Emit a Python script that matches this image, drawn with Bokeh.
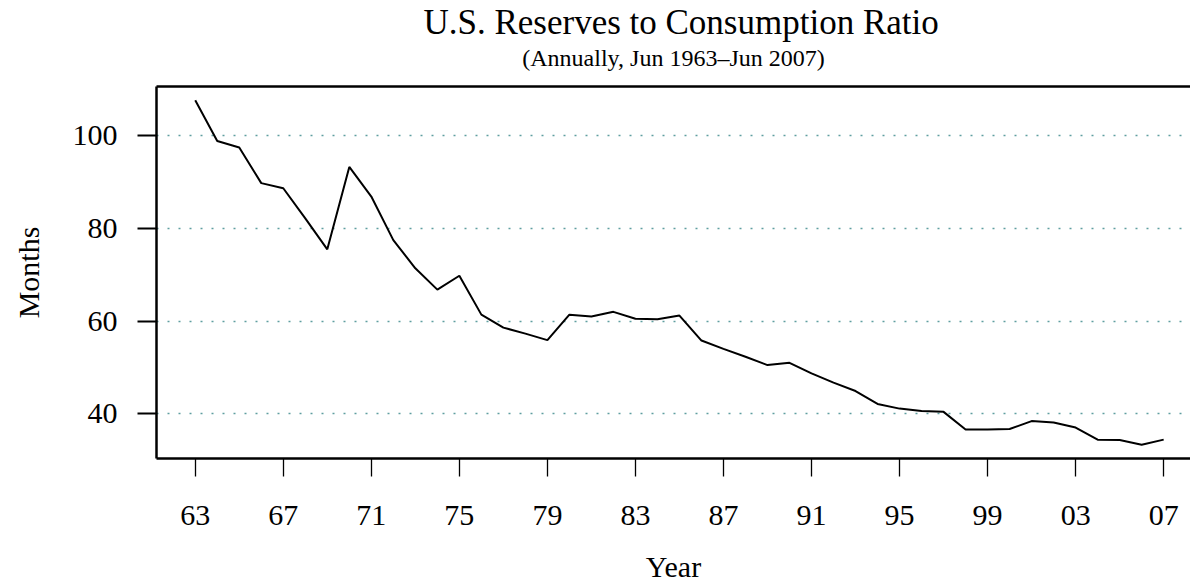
from bokeh.plotting import figure
from bokeh.models import Range1d, FixedTicker, LinearAxis, Title, ColumnDataSource
from bokeh.embed import file_html
from bokeh.resources import INLINE

# ---- data ----
years = [1963, 1964, 1965, 1966, 1967, 1968, 1969, 1970, 1971, 1972,
         1973, 1974, 1975, 1976, 1977, 1978, 1979, 1980, 1981, 1982,
         1983, 1984, 1985, 1986, 1987, 1988, 1989, 1990, 1991, 1992,
         1993, 1994, 1995, 1996, 1997, 1998, 1999, 2000, 2001, 2002,
         2003, 2004, 2005, 2006, 2007]
months = [107.7, 98.9, 97.5, 89.8, 88.7, 82.2, 75.5, 93.3, 86.9, 77.5,
          71.4, 66.8, 69.8, 61.4, 58.6, 57.3, 55.9, 61.4, 61.0, 62.0,
          60.5, 60.4, 61.2, 55.8, 54.0, 52.3, 50.5, 51.0, 48.7, 46.7,
          44.9, 42.1, 41.1, 40.6, 40.4, 36.6, 36.6, 36.7, 38.4, 38.1,
          37.0, 34.4, 34.3, 33.3, 34.4]
x_ticks = [1963, 1967, 1971, 1975, 1979, 1983, 1987, 1991, 1995, 1999, 2003, 2007]
x_tick_labels = ["63", "67", "71", "75", "79", "83", "87", "91", "95", "99", "03", "07"]
y_ticks = [40, 60, 80, 100]

title_text = "U.S. Reserves to Consumption Ratio"
subtitle_text = "(Annually, Jun 1963\u2013Jun 2007)"
x_label = "Year"
y_label = "Months"

FONT = "Liberation Serif"

# ---- layout ----
W, H = 1190, 585
BL, BT = 156, 86
frame_h = 373
BB = H - BT - frame_h
frame_w = W - BL

# R-style 4% padded ranges
xspan = years[-1] - years[0]
px_per_year = 22.01
x_lo = years[0] - 0.04 * xspan
x_hi = x_lo + frame_w / px_per_year
ymin, ymax = min(months), max(months)
yspan = ymax - ymin
y_lo = ymin - 0.04 * yspan
y_hi = ymax + 0.04 * yspan

# horizontal centre of R's full plot region (it runs past the window edge)
x_full_hi = years[-1] + 0.04 * xspan
centre_px = ((x_lo + x_full_hi) / 2 - x_lo) * px_per_year   # from frame left

p = figure(width=W, height=H, x_range=Range1d(x_lo, x_hi), y_range=Range1d(y_lo, y_hi),
           output_backend="svg", toolbar_location=None,
           min_border_left=BL, min_border_right=0, min_border_top=BT, min_border_bottom=BB,
           x_axis_location=None, y_axis_location=None)
p.outline_line_color = None
p.background_fill_color = "white"
p.border_fill_color = "white"

# grid
p.xgrid.visible = False
p.ygrid.ticker = FixedTicker(ticks=y_ticks)
p.ygrid.grid_line_color = "#5F9EA0"
p.ygrid.grid_line_dash = "2 9"
p.ygrid.grid_line_width = 1.5

# line
src = ColumnDataSource(dict(x=years, y=months))
p.line("x", "y", source=src, line_color="black", line_width=2.0)

# axes
xa = LinearAxis(ticker=FixedTicker(ticks=x_ticks), axis_label=x_label,
                major_label_overrides={t: l for t, l in zip(x_ticks, x_tick_labels)})
xa.axis_line_width = 2.5
xa.major_tick_out = 18
xa.major_tick_in = 0
xa.major_tick_line_width = 1.3
xa.minor_tick_line_color = None
xa.major_label_text_font = FONT
xa.major_label_text_font_size = "30px"
xa.major_label_text_color = "black"
xa.major_label_standoff = 29
xa.axis_label_text_font = FONT
xa.axis_label_text_font_size = "30px"
xa.axis_label_text_font_style = "normal"
xa.axis_label_text_color = "black"
xa.axis_label_standoff = 22
p.add_layout(xa, "below")

ya = LinearAxis(ticker=FixedTicker(ticks=y_ticks), axis_label=y_label)
ya.axis_line_width = 2.5
ya.major_tick_out = 19
ya.major_tick_in = 0
ya.major_tick_line_width = 2
ya.minor_tick_line_color = None
ya.major_label_orientation = "horizontal"
ya.major_label_text_font = FONT
ya.major_label_text_font_size = "30px"
ya.major_label_text_color = "black"
ya.major_label_standoff = 20
ya.axis_label_text_font = FONT
ya.axis_label_text_font_size = "30px"
ya.axis_label_text_font_style = "normal"
ya.axis_label_text_color = "black"
ya.axis_label_standoff = 25
p.add_layout(ya, "left")

# top frame edge: an axis with no ticks, carrying the subtitle as its label
top = LinearAxis(ticker=FixedTicker(ticks=[]), axis_label=subtitle_text)
top.axis_line_width = 2.5
top.major_tick_line_color = None
top.minor_tick_line_color = None
top.major_label_text_color = None
top.axis_label_text_font = FONT
top.axis_label_text_font_size = "24px"
top.axis_label_text_font_style = "normal"
top.axis_label_text_color = "black"
top.axis_label_standoff = 16
p.add_layout(top, "above")

TITLE_W = 512   # approx rendered text width
p.add_layout(Title(text=title_text, text_font=FONT, text_font_size="35px",
                   text_font_style="normal", text_color="black", align="left",
                   offset=centre_px - TITLE_W / 2, standoff=0), "above")

open("out.html", "w").write(file_html(p, INLINE))
